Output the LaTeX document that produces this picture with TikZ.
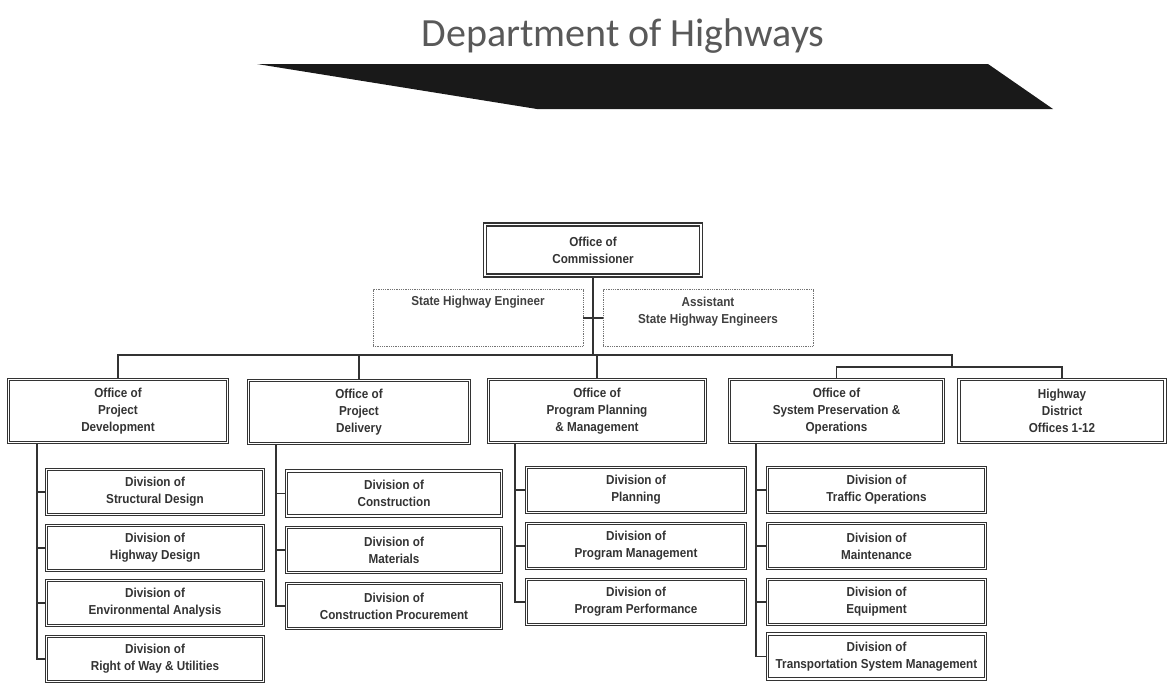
\documentclass[tikz,border=0pt]{standalone}
\usepackage{fontspec}
\setmainfont{Liberation Sans}
\newfontfamily\boxfont[FakeStretch=0.9]{Liberation Sans}
\newfontfamily\titlefont{Carlito}
\newcommand\boxtext{\boxfont\bfseries\fontsize{13}{17}\selectfont}

\tikzset{
  x=1pt, y=-1pt,
  link/.style={draw=black!80, line width=1.5pt},
  framed/.style={draw=black!80, line width=1.1pt, double=white, double distance=1.3pt,
    inner sep=0pt, align=center, font=\boxtext, text=black!80},
  office/.style={framed, minimum width=#1, minimum height=63},
  division/.style={framed, minimum width=#1, minimum height=45},
  chief/.style={framed, line width=1.5pt, minimum width=#1, minimum height=51},
  aide/.style={draw=black!55, densely dotted, line width=0.8pt, minimum width=#1,
    minimum height=57, inner sep=0pt},
  aidetext/.style={font=\boxtext, text=black!75, align=center, yshift=6pt},
}

\begin{document}
\begin{tikzpicture}
\useasboundingbox (0,0) rectangle (1168,683);
\fill[white] (0,0) rectangle (1168,683);

% heading and banner
\node[text=black!65] (title) at (623,36) {\titlefont\fontsize{40}{42}\selectfont Department of Highways};
\fill[black!90] (257,64) -- (988,64) -- (1053,109) -- (537,109) -- cycle;

% top of the chart
\node[chief=216] (comm) at (593,250) {Office of\\Commissioner};
\node[aide=210, label={[aidetext]center:State Highway Engineer\\\strut}] (she) at (478,318) {};
\node[aide=210, label={[aidetext]center:Assistant\\State Highway Engineers}] (ashe) at (708,318) {};

% offices
\node[office=219] (pd)   at (118,411) {Office of\\Project\\Development};
\node[office=221] (pdel) at (359,412) {Office of\\Project\\Delivery};
\node[office=217] (ppm)  at (597,411) {Office of\\Program Planning\\\& Management};
\node[office=214] (spo)  at (836.5,411) {Office of\\System Preservation \&\\Operations};
\node[office=206] (hd)   at (1062,411) {Highway\\District\\Offices 1-12};

% divisions under Project Development
\node[division=217] (d11) at (155,492) {Division of\\Structural Design};
\node[division=217] (d12) at (155,548) {Division of\\Highway Design};
\node[division=217] (d13) at (155,603) {Division of\\Environmental Analysis};
\node[division=217] (d14) at (155,659) {Division of\\Right of Way \& Utilities};

% divisions under Project Delivery
\node[division=215] (d21) at (394,493.5) {Division of\\Construction};
\node[division=215] (d22) at (394,550) {Division of\\Materials};
\node[division=215] (d23) at (394,606) {Division of\\Construction Procurement};

% divisions under Program Planning & Management
\node[division=219] (d31) at (636,490) {Division of\\Planning};
\node[division=219] (d32) at (636,546) {Division of\\Program Management};
\node[division=219] (d33) at (636,602) {Division of\\Program Performance};

% divisions under System Preservation & Operations
\node[division=218] (d41) at (876.5,490) {Division of\\Traffic Operations};
\node[division=218] (d42) at (876.5,546) {Division of\\Maintenance};
\node[division=218] (d43) at (876.5,602) {Division of\\Equipment};
\node[division=218] (d44) at (876.5,656.5) {Division of\\Transportation System Management};

% branch points
\coordinate (bus)    at (593,355);
\coordinate (split)  at (952,355);
\coordinate (split2) at (952,367);
\coordinate (t1) at (37,0);
\coordinate (t2) at (276,0);
\coordinate (t3) at (515,0);
\coordinate (t4) at (756,0);

% connectors
\draw[link] (comm.south) -- (bus);
\draw[link] (she.east) -- (ashe.west);
\draw[link] (pd.north) |- (split) -- (split2);
\draw[link] (pdel.north) -- (pdel.north |- bus);
\draw[link] (ppm.north) -- (ppm.north |- bus);
\draw[link] (spo.north) |- (split2) -| (hd.north);

\foreach \d in {d11,d12,d13,d14} \draw[link] (pd.south -| t1) |- (\d.west);
\foreach \d in {d21,d22,d23} \draw[link] (pdel.south -| t2) |- (\d.west);
\foreach \d in {d31,d32,d33} \draw[link] (ppm.south -| t3) |- (\d.west);
\foreach \d in {d41,d42,d43,d44} \draw[link] (spo.south -| t4) |- (\d.west);
\end{tikzpicture}
\end{document}
